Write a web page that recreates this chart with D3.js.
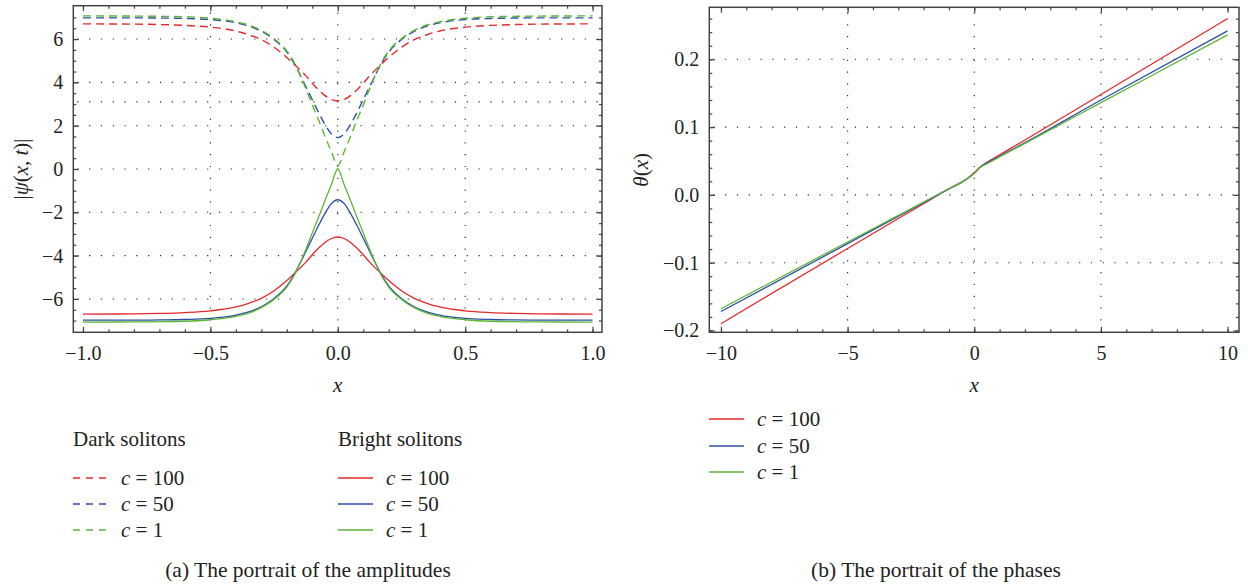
<!DOCTYPE html>
<html>
<head>
<meta charset="utf-8">
<script src="https://cdn.jsdelivr.net/npm/d3@7"></script>
<style>
  body { margin: 0; background: #fff; }
  svg { display: block; font-family: "Liberation Serif", "DejaVu Serif", serif; }
</style>
</head>
<body>
<script>
// amplitude portrait, x samples
const ampX = [-1, -0.8, -0.7, -0.6, -0.5, -0.4, -0.35, -0.3, -0.25, -0.2, -0.175, -0.15, -0.125, -0.1, -0.075, -0.05, -0.025,
  0, 0.025, 0.05, 0.075, 0.1, 0.125, 0.15, 0.175, 0.2, 0.25, 0.3, 0.35, 0.4, 0.5, 0.6, 0.7, 0.8, 1];

// dark solitons (dashed)
const darkC100 = [6.70, 6.69, 6.67, 6.63, 6.55, 6.37, 6.20, 5.97, 5.62, 5.15, 4.88, 4.60, 4.30, 3.96, 3.65, 3.39, 3.21,
  3.15, 3.21, 3.39, 3.65, 3.96, 4.30, 4.60, 4.88, 5.15, 5.62, 5.97, 6.20, 6.37, 6.55, 6.63, 6.67, 6.69, 6.70];
const darkC50 = [6.98, 6.98, 6.97, 6.95, 6.90, 6.75, 6.60, 6.36, 5.98, 5.40, 4.95, 4.40, 3.80, 3.20, 2.60, 2.05, 1.62,
  1.45, 1.62, 2.05, 2.60, 3.20, 3.80, 4.40, 4.95, 5.40, 5.98, 6.36, 6.60, 6.75, 6.90, 6.95, 6.97, 6.98, 6.98];
const darkC1 = [7.07, 7.06, 7.05, 7.03, 6.96, 6.80, 6.65, 6.40, 6.02, 5.45, 5.00, 4.40, 3.70, 2.95, 2.25, 1.50, 0.80,
  0.15, 0.80, 1.50, 2.25, 2.95, 3.70, 4.40, 5.00, 5.45, 6.02, 6.40, 6.65, 6.80, 6.96, 7.03, 7.05, 7.06, 7.07];

// bright solitons (solid)
const brightC100 = [-6.70, -6.69, -6.67, -6.63, -6.55, -6.37, -6.20, -5.97, -5.62, -5.15, -4.88, -4.60, -4.30, -3.96, -3.65, -3.39, -3.21,
  -3.14, -3.21, -3.39, -3.65, -3.96, -4.30, -4.60, -4.88, -5.15, -5.62, -5.97, -6.20, -6.37, -6.55, -6.63, -6.67, -6.69, -6.70];
const brightC50 = [-6.98, -6.98, -6.97, -6.95, -6.90, -6.75, -6.60, -6.36, -5.98, -5.40, -4.95, -4.40, -3.80, -3.20, -2.60, -2.05, -1.60,
  -1.42, -1.60, -2.05, -2.60, -3.20, -3.80, -4.40, -4.95, -5.40, -5.98, -6.36, -6.60, -6.75, -6.90, -6.95, -6.97, -6.98, -6.98];
const brightC1 = [-7.07, -7.06, -7.05, -7.03, -6.96, -6.80, -6.65, -6.40, -6.02, -5.45, -5.00, -4.40, -3.70, -2.95, -2.22, -1.45, -0.72,
  0.00, -0.72, -1.45, -2.22, -2.95, -3.70, -4.40, -5.00, -5.45, -6.02, -6.40, -6.65, -6.80, -6.96, -7.03, -7.05, -7.06, -7.07];

// phase portrait
const phaseX = [-10, -5, -2, -1, -0.5, -0.25, 0, 0.25, 0.5, 1, 2, 5, 10];
const phaseC100 = [-0.190, -0.079, -0.013, 0.009, 0.019, 0.025, 0.033, 0.042, 0.048, 0.059, 0.081, 0.148, 0.260];
const phaseC50 = [-0.172, -0.072, -0.0115, 0.0088, 0.0185, 0.0245, 0.032, 0.041, 0.047, 0.057, 0.077, 0.140, 0.242];
const phaseC1 = [-0.168, -0.0695, -0.0106, 0.009, 0.0185, 0.0245, 0.032, 0.041, 0.046, 0.056, 0.076, 0.136, 0.236];

const seriesNames = ["c = 100", "c = 50", "c = 1"];
const colors = ["#e5292b", "#2c4fa6", "#5cb534"];

const ampXTicks = [-1, -0.5, 0, 0.5, 1];
const ampYTicks = [-6, -4, -2, 0, 2, 4, 6];
const ampYGrid = [-6, -4, -2, 0, 2, 3.1, 4, 6];
const phaseXTicks = [-10, -5, 0, 5, 10];
const phaseYTicks = [-0.2, -0.1, 0, 0.1, 0.2];

const width = 1248, height = 587;
const svg = d3.select("body").append("svg").attr("width", width).attr("height", height);

const frameColor = "#444";
const textColor = "#222";

function panel(opts) {
  const { x, y, xTicks, xMinor, yTicks, yMinor, xGrid, yGrid, xFmt, yFmt, id } = opts;
  const [x0, x1] = x.range();
  const [y0, y1] = y.range();
  const g = svg.append("g");

  g.append("clipPath").attr("id", id).append("rect")
    .attr("x", x0).attr("y", y1).attr("width", x1 - x0).attr("height", y0 - y1);

  // dotted grid
  const grid = g.append("g").attr("stroke", "#222").attr("stroke-width", 1.1)
    .attr("stroke-dasharray", "1.2,10.6");
  grid.selectAll(".gx").data(xGrid).join("line")
    .attr("x1", d => x(d)).attr("x2", d => x(d)).attr("y1", y0).attr("y2", y1);
  grid.selectAll(".gy").data(yGrid).join("line")
    .attr("x1", x0 + 4).attr("x2", x1).attr("y1", d => y(d)).attr("y2", d => y(d));

  const style = sel => {
    sel.attr("font-family", null).attr("font-size", null);
    sel.select(".domain").remove();
    sel.selectAll(".tick line").attr("stroke", frameColor).attr("stroke-width", 1.2);
    sel.selectAll(".tick text").attr("fill", textColor).style("font-size", "20px");
  };

  // minor ticks
  g.append("g").attr("transform", `translate(0,${y0})`)
    .call(d3.axisBottom(x).tickValues(xMinor).tickSize(-3).tickFormat("")).call(style);
  g.append("g").attr("transform", `translate(0,${y1})`)
    .call(d3.axisTop(x).tickValues(xMinor).tickSize(-3).tickFormat("")).call(style);
  g.append("g").attr("transform", `translate(${x0},0)`)
    .call(d3.axisLeft(y).tickValues(yMinor).tickSize(-3).tickFormat("")).call(style);
  g.append("g").attr("transform", `translate(${x1},0)`)
    .call(d3.axisRight(y).tickValues(yMinor).tickSize(-3).tickFormat("")).call(style);

  // major ticks
  g.append("g").attr("transform", `translate(0,${y0})`)
    .call(d3.axisBottom(x).tickValues(xTicks).tickSize(-5.5).tickPadding(14).tickFormat(xFmt)).call(style);
  g.append("g").attr("transform", `translate(0,${y1})`)
    .call(d3.axisTop(x).tickValues(xTicks).tickSize(-5.5).tickFormat("")).call(style);
  g.append("g").attr("transform", `translate(${x0},0)`)
    .call(d3.axisLeft(y).tickValues(yTicks).tickSize(-5.5).tickPadding(10).tickFormat(yFmt)).call(style);
  g.append("g").attr("transform", `translate(${x1},0)`)
    .call(d3.axisRight(y).tickValues(yTicks).tickSize(-5.5).tickFormat("")).call(style);

  // frame
  g.append("rect").attr("x", x0).attr("y", y1).attr("width", x1 - x0).attr("height", y0 - y1)
    .attr("fill", "none").attr("stroke", frameColor).attr("stroke-width", 1.5);

  return g.append("g").attr("clip-path", `url(#${id})`);
}

// ---- (a) amplitudes
const xa = d3.scaleLinear().domain([-1.038, 1.037]).range([73.3, 602]);
const ya = d3.scaleLinear().domain([-7.54, 7.54]).range([332.3, 5.7]);
const plotA = panel({
  id: "clipA", x: xa, y: ya,
  xTicks: ampXTicks, xMinor: d3.range(-10, 11).map(d => d / 10),
  yTicks: ampYTicks, yMinor: d3.range(-14, 15).map(d => d / 2),
  xGrid: [-0.5, 0, 0.5], yGrid: ampYGrid,
  xFmt: d3.format(".1f"), yFmt: d3.format("d")
});

const lineA = vals => d3.line().x((d, i) => xa(ampX[i])).y(d => ya(d)).curve(d3.curveMonotoneX)(vals);
[darkC100, darkC50, darkC1].forEach((s, i) => {
  plotA.append("path").attr("d", lineA(s)).attr("fill", "none").attr("stroke", colors[i])
    .attr("stroke-width", 1.4).attr("stroke-dasharray", "8,5");
});
[brightC100, brightC50, brightC1].forEach((s, i) => {
  plotA.append("path").attr("d", lineA(s)).attr("fill", "none").attr("stroke", colors[i])
    .attr("stroke-width", 1.3);
});

// ---- (b) phases
const xb = d3.scaleLinear().domain([-10.46, 10.45]).range([709.3, 1239]);
const yb = d3.scaleLinear().domain([-0.2027, 0.2767]).range([332.3, 7.3]);
const plotB = panel({
  id: "clipB", x: xb, y: yb,
  xTicks: phaseXTicks, xMinor: d3.range(-10, 11),
  yTicks: phaseYTicks, yMinor: d3.range(-10, 14).map(d => d / 50),
  xGrid: [-5, 0, 5], yGrid: [-0.1, 0, 0.1, 0.2],
  xFmt: d3.format("d"), yFmt: d3.format(".1f")
});
const lineB = vals => d3.line().x((d, i) => xb(phaseX[i])).y(d => yb(d)).curve(d3.curveMonotoneX)(vals);
[phaseC100, phaseC50, phaseC1].forEach((s, i) => {
  plotB.append("path").attr("d", lineB(s)).attr("fill", "none").attr("stroke", colors[i])
    .attr("stroke-width", 1.3);
});

// axis titles
function italicLabel(sel, parts) {
  parts.forEach(([t, it]) => sel.append("tspan").text(t).attr("font-style", it ? "italic" : null));
}
const ttl = svg.append("g").attr("fill", textColor).style("font-size", "21px");
italicLabel(ttl.append("text").attr("x", xa(0)).attr("y", 392).attr("text-anchor", "middle"), [["x", true]]);
italicLabel(ttl.append("text").attr("x", xb(0)).attr("y", 392).attr("text-anchor", "middle"), [["x", true]]);
italicLabel(ttl.append("text").attr("transform", `translate(28,${ya(0)}) rotate(-90)`).attr("text-anchor", "middle"),
  [["|", false], ["ψ", true], ["(", false], ["x", true], [", ", false], ["t", true], [")|", false]]);
italicLabel(ttl.append("text").attr("transform", `translate(648,${yb(0.037)}) rotate(-90)`).attr("text-anchor", "middle"),
  [["θ", true], ["(", false], ["x", true], [")", false]]);

// legends
function legendRow(g, x, y, color, dashed, label) {
  g.append("line").attr("x1", x).attr("x2", x + 35).attr("y1", y).attr("y2", y)
    .attr("stroke", color).attr("stroke-width", 1.4).attr("stroke-dasharray", dashed ? "7,6" : null);
  const t = g.append("text").attr("x", x + 48).attr("y", y + 7).style("font-size", "21px").attr("fill", textColor);
  const [c, rest] = label.split(" = ");
  t.append("tspan").text(c).attr("font-style", "italic");
  t.append("tspan").text(" = " + rest);
}
const leg = svg.append("g");
leg.append("text").attr("x", 73).attr("y", 446).text("Dark solitons").style("font-size", "21px").attr("fill", textColor);
leg.append("text").attr("x", 338).attr("y", 446).text("Bright solitons").style("font-size", "21px").attr("fill", textColor);
const rowsY = [478, 504, 530];
seriesNames.forEach((n, i) => {
  legendRow(leg, 73, rowsY[i], colors[i], true, n);
  legendRow(leg, 338, rowsY[i], colors[i], false, n);
  legendRow(leg, 709, [419, 446, 472][i], colors[i], false, n);
});

// captions
svg.append("text").attr("x", 308).attr("y", 577).attr("text-anchor", "middle").style("font-size", "21.5px")
  .attr("fill", textColor).text("(a)  The portrait of the amplitudes");
svg.append("text").attr("x", 936).attr("y", 577).attr("text-anchor", "middle").style("font-size", "21.5px")
  .attr("fill", textColor).text("(b)  The portrait of the phases");
</script>
</body>
</html>
